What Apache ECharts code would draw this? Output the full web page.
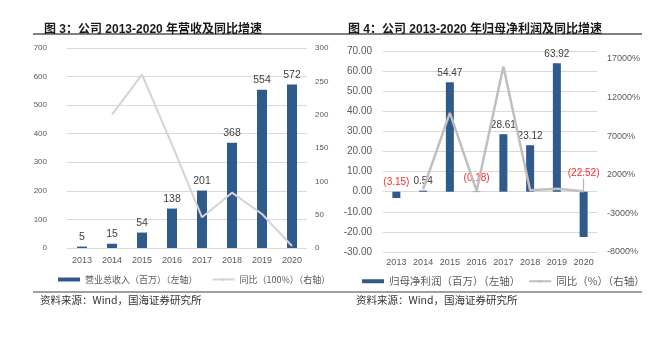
<!DOCTYPE html>
<html>
<head>
<meta charset="utf-8">
<script src="https://cdn.jsdelivr.net/npm/echarts@6/dist/echarts.min.js"></script>
<style>
  html, body { margin: 0; padding: 0; background: #fff; }
  #main { width: 671px; height: 337px; }
</style>
</head>
<body>
<div id="main"></div>
<script>
// Years shared by both panels
const years = ['2013', '2014', '2015', '2016', '2017', '2018', '2019', '2020'];

// Panel 1: total revenue (million) and YoY growth (%)
const revenue = [5, 15, 54, 138, 201, 368, 554, 572];
const revenueYoY = [null, 200, 260, 155, 46, 83, 51, 3];

// Panel 2: net profit attributable to parent (million) and YoY growth (%)
const netProfit = [-3.15, 0.54, 54.47, -0.18, 28.61, 23.12, 63.92, -22.52];
const netProfitYoY = [null, 117, 9987, -100, 15994, -19, 177, -135];

// Axis ranges
const revAxis = { min: 0, max: 700, step: 100 };
const revYoYAxis = { min: 0, max: 300, step: 50 };
const profitAxis = { min: -30, max: 70, step: 10 };
const profitYoYAxis = { min: -8000, max: 18000, step: 5000 };

const FONT = '"Liberation Sans", Arial, "Noto Sans CJK SC", sans-serif';
const CJK = '"Noto Sans CJK SC", "Liberation Sans", sans-serif';
const BLUE = '#2F5A8C';
const GRID_LINE = '#d9d9d9';
const TICK_COLOR = '#595959';

const chart = echarts.init(document.getElementById('main'));

function fmtProfit(v) {
  return v < 0 ? '{neg|(' + Math.abs(v).toFixed(2) + ')}' : '{pos|' + v.toFixed(2) + '}';
}

const option = {
  animation: false,
  backgroundColor: '#fff',
  textStyle: { fontFamily: FONT },
  title: [
    {
      text: '图 3：公司 2013-2020 年营收及同比增速',
      left: 39, top: 19,
      textStyle: { fontFamily: FONT, fontSize: 12, fontWeight: 'bold', color: '#1a1a1a' }
    },
    {
      text: '图 4：公司 2013-2020 年归母净利润及同比增速',
      left: 343, top: 19,
      textStyle: { fontFamily: FONT, fontSize: 12, fontWeight: 'bold', color: '#1a1a1a' }
    }
  ],
  graphic: [
    { type: 'line', shape: { x1: 33, y1: 34, x2: 642, y2: 34 }, style: { stroke: '#808080', lineWidth: 2 } },
    { type: 'line', shape: { x1: 33, y1: 292, x2: 642, y2: 292 }, style: { stroke: '#808080', lineWidth: 1.5 } },
    { type: 'text', left: 40, top: 295, style: { text: '资料来源：Wind，国海证券研究所', font: '10.5px ' + CJK, fill: '#333' } },
    { type: 'text', left: 356, top: 295, style: { text: '资料来源：Wind，国海证券研究所', font: '10.5px ' + CJK, fill: '#333' } }
  ],
  legend: [
    {
      left: 53, top: 270,
      itemWidth: 22, itemHeight: 4, itemGap: 14,
      textStyle: { fontFamily: CJK, fontSize: 9, color: TICK_COLOR },
      data: [
        { name: '营业总收入（百万）（左轴）', icon: 'rect' },
        { name: '同比（100%）（右轴）' }
      ]
    },
    {
      left: 357, top: 271,
      itemWidth: 22, itemHeight: 4, itemGap: 8,
      textStyle: { fontFamily: CJK, fontSize: 10.5, color: TICK_COLOR },
      data: [
        { name: '归母净利润（百万）（左轴）', icon: 'rect' },
        { name: '同比（%）（右轴）' }
      ]
    }
  ],
  grid: [
    { left: 67, right: 364, top: 48, bottom: 89 },
    { left: 383, right: 74, top: 51, bottom: 85 }
  ],
  xAxis: [
    {
      type: 'category', gridIndex: 0, data: years,
      axisLine: { show: false }, axisTick: { show: false },
      axisLabel: { color: TICK_COLOR, fontSize: 9, margin: 8, interval: 0 }
    },
    {
      type: 'category', gridIndex: 1, data: years,
      axisLine: { show: false, onZero: false }, axisTick: { show: false },
      axisLabel: { color: TICK_COLOR, fontSize: 9, margin: 6, interval: 0 }
    }
  ],
  yAxis: [
    {
      type: 'value', gridIndex: 0,
      min: revAxis.min, max: revAxis.max, interval: revAxis.step,
      axisLine: { show: false }, axisTick: { show: false },
      axisLabel: { color: TICK_COLOR, fontSize: 8, margin: 20 },
      splitLine: { lineStyle: { color: GRID_LINE, width: 1 } }
    },
    {
      type: 'value', gridIndex: 0,
      min: revYoYAxis.min, max: revYoYAxis.max, interval: revYoYAxis.step,
      axisLine: { show: false }, axisTick: { show: false },
      axisLabel: { color: TICK_COLOR, fontSize: 8, margin: 8 },
      splitLine: { show: false }
    },
    {
      type: 'value', gridIndex: 1,
      min: profitAxis.min, max: profitAxis.max, interval: profitAxis.step,
      axisLine: { show: false }, axisTick: { show: false },
      axisLabel: { color: TICK_COLOR, fontSize: 10, margin: 11, formatter: v => v.toFixed(2) },
      splitLine: { lineStyle: { color: GRID_LINE, width: 1 } }
    },
    {
      type: 'value', gridIndex: 1,
      min: profitYoYAxis.min, max: profitYoYAxis.max, interval: 1000,
      axisLine: { show: false }, axisTick: { show: false },
      axisLabel: {
        color: TICK_COLOR, fontSize: 9, margin: 10,
        formatter: v => ((v - profitYoYAxis.min) % profitYoYAxis.step === 0 && v < profitYoYAxis.max) ? v + '%' : ''
      },
      splitLine: { show: false }
    }
  ],
  series: [
    {
      name: '营业总收入（百万）（左轴）',
      type: 'bar', xAxisIndex: 0, yAxisIndex: 0,
      data: revenue, barWidth: 10,
      itemStyle: { color: BLUE },
      label: { show: true, position: 'top', distance: 4, color: '#404040', fontSize: 10.5 }
    },
    {
      name: '同比（100%）（右轴）',
      type: 'line', xAxisIndex: 0, yAxisIndex: 1,
      data: revenueYoY, symbol: 'none',
      lineStyle: { color: '#d4d4d4', width: 2 },
      itemStyle: { color: '#d4d4d4' }
    },
    {
      name: '归母净利润（百万）（左轴）',
      type: 'bar', xAxisIndex: 1, yAxisIndex: 2,
      data: netProfit.map((v, i) => ({ value: v, labelLine: { show: i === netProfit.length - 1 } })),
      barWidth: 8,
      itemStyle: { color: BLUE },
      label: {
        show: true, position: 'top', distance: 4, fontSize: 10,
        formatter: p => fmtProfit(p.value),
        rich: {
          pos: { color: '#404040', fontSize: 10 },
          neg: { color: '#ff2a2a', fontSize: 10 }
        }
      },
      labelLine: { lineStyle: { color: '#a6a6a6', width: 1 } },
      labelLayout: p => {
        if (p.dataIndex === 3) return { dy: -4 };
        if (p.dataIndex === 7) return { dy: -9 };
        return {};
      }
    },
    {
      name: '同比（%）（右轴）',
      type: 'line', xAxisIndex: 1, yAxisIndex: 3,
      data: netProfitYoY, symbol: 'none',
      lineStyle: { color: '#bfbfbf', width: 2.5 },
      itemStyle: { color: '#bfbfbf' }
    }
  ]
};

chart.setOption(option);
</script>
</body>
</html>
